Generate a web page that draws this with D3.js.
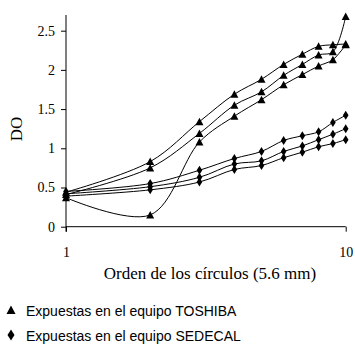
<!DOCTYPE html>
<html>
<head>
<meta charset="utf-8">
<script src="https://cdn.jsdelivr.net/npm/d3@7"></script>
<style>
  html, body { margin: 0; padding: 0; background: #fff; }
  svg { display: block; }
</style>
</head>
<body>
<svg id="chart" width="355" height="347"></svg>
<script>
// Circle order (x, log scale) and optical density readings
const orden = [1, 2, 3, 4, 5, 6, 7, 8, 9, 10];

// Films exposed on the TOSHIBA unit
const toshiba1 = [0.44, 0.83, 1.34, 1.69, 1.88, 2.07, 2.20, 2.30, 2.32, 2.33];
const toshiba2 = [0.41, 0.75, 1.19, 1.55, 1.72, 1.93, 2.07, 2.19, 2.23, 2.68];
const toshiba3 = [0.37, 0.15, 1.08, 1.41, 1.62, 1.81, 1.94, 2.05, 2.13, 2.32];

// Films exposed on the SEDECAL unit
const sedecal1 = [0.45, 0.55, 0.72, 0.87, 0.96, 1.10, 1.16, 1.21, 1.33, 1.42];
const sedecal2 = [0.42, 0.51, 0.63, 0.80, 0.84, 0.96, 1.03, 1.11, 1.18, 1.25];
const sedecal3 = [0.39, 0.47, 0.57, 0.73, 0.78, 0.88, 0.95, 1.02, 1.06, 1.11];

const yTicks = [0, 0.5, 1, 1.5, 2, 2.5];
const xTicks = [1, 10];
const xTitle = "Orden de los círculos (5.6 mm)";
const yTitle = "DO";
const legendLabels = ["Expuestas en el equipo TOSHIBA", "Expuestas en el equipo SEDECAL"];

const series = [
  { values: toshiba1, shape: "tri" },
  { values: toshiba2, shape: "tri" },
  { values: toshiba3, shape: "tri" },
  { values: sedecal1, shape: "dia" },
  { values: sedecal2, shape: "dia" },
  { values: sedecal3, shape: "dia" }
];

const svg = d3.select("#chart");
const serif = "'Liberation Serif', 'Times New Roman', serif";
const sans = "'Liberation Sans', Arial, sans-serif";

const x = d3.scaleLog().domain([1, 10]).range([66, 345.7]);
const y = d3.scaleLinear().domain([0, 2.7]).range([226.7, 15]);

// Marker shapes
const triPath = "M0,-4L4,3.5L-4,3.5Z";
const diaPath = "M0,-4.5L2.8,0L0,4.5L-2.8,0Z";
const triLegend = "M0,-4.5L4.5,4L-4.5,4Z";
const diaLegend = "M0,-5.5L3.5,0L0,5.5L-3.5,0Z";

// Y axis
const yAxis = svg.append("g")
  .attr("transform", `translate(${x(1)},0)`)
  .call(d3.axisLeft(y).tickValues(yTicks).tickSize(5).tickPadding(6)
    .tickFormat(d => d3.format("")(d)));
yAxis.select(".domain").attr("d", `M0,${y(2.7)}V${y(0) + 5}`).attr("stroke", "#000");
yAxis.selectAll("text").attr("font-family", serif).attr("font-size", 14).attr("fill", "#000");
yAxis.selectAll("line").attr("stroke", "#000");

// X axis
const xAxis = svg.append("g")
  .attr("transform", `translate(0,${y(0)})`)
  .call(d3.axisBottom(x).tickValues(xTicks).tickSize(5).tickPadding(15)
    .tickFormat(d3.format("d")));
xAxis.select(".domain").attr("d", `M${x(1)},0H${x(10)}`).attr("stroke", "#000");
xAxis.selectAll("text").attr("font-family", serif).attr("font-size", 14).attr("fill", "#000");
xAxis.selectAll("line").attr("stroke", "#000");

// Axis titles
svg.append("text")
  .attr("x", 210).attr("y", 279)
  .attr("text-anchor", "middle")
  .attr("font-family", serif).attr("font-size", 17)
  .text(xTitle);

svg.append("text")
  .attr("transform", "translate(22,129) rotate(-90)")
  .attr("text-anchor", "middle")
  .attr("font-family", serif).attr("font-size", 17)
  .text(yTitle);

// Smoothed series lines
const line = d3.line()
  .x((d, i) => x(orden[i]))
  .y(d => y(d))
  .curve(d3.curveCatmullRom.alpha(0.5));

const g = svg.append("g");
series.forEach(s => {
  g.append("path")
    .attr("d", line(s.values))
    .attr("fill", "none")
    .attr("stroke", "#000")
    .attr("stroke-width", 1);
});

// Markers
series.forEach(s => {
  g.selectAll(null)
    .data(s.values)
    .enter().append("path")
    .attr("d", s.shape === "tri" ? triPath : diaPath)
    .attr("transform", (d, i) => `translate(${x(orden[i])},${y(d)})`)
    .attr("fill", "#000");
});

// Legend
const legend = svg.append("g");
[triLegend, diaLegend].forEach((p, i) => {
  const ly = 311 + i * 25;
  legend.append("path")
    .attr("d", p)
    .attr("transform", `translate(11,${ly - 1})`)
    .attr("fill", "#000");
  legend.append("text")
    .attr("x", 26).attr("y", ly + 5)
    .attr("font-family", sans).attr("font-size", 14)
    .text(legendLabels[i]);
});
</script>
</body>
</html>
